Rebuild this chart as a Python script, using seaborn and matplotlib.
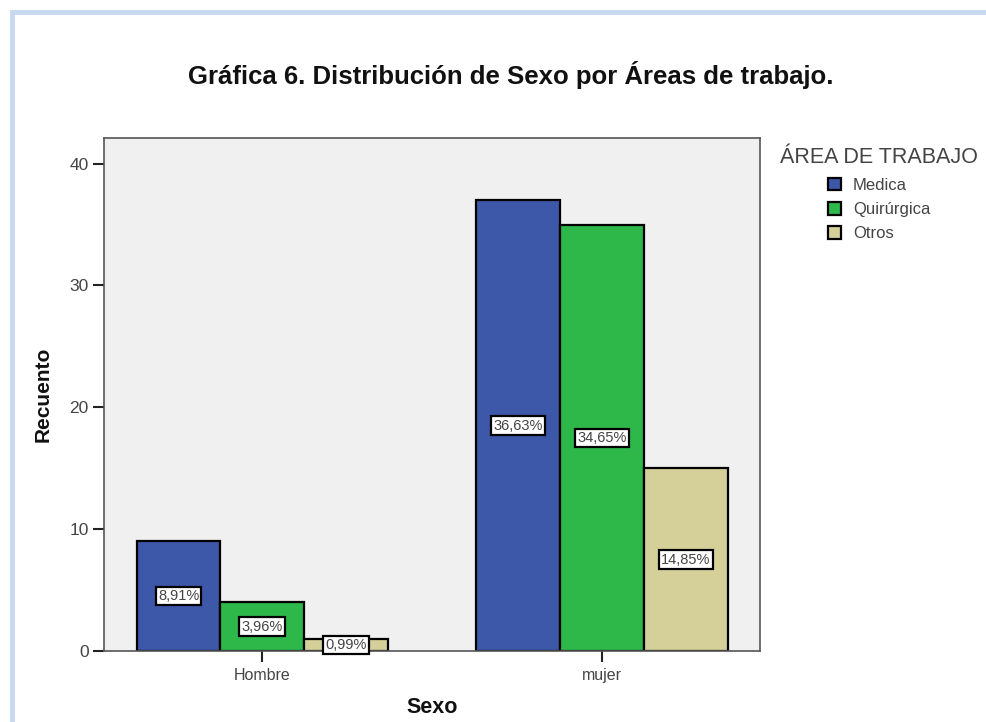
import matplotlib
matplotlib.use("Agg")
import matplotlib.pyplot as plt
from matplotlib.patches import Rectangle, Patch
import seaborn as sns
import pandas as pd

# Counts of staff by sex and work area
sexo = ["Hombre", "mujer"]
areas = ["Medica", "Quirúrgica", "Otros"]
medica = [9, 37]
quirurgica = [4, 35]
otros = [1, 15]
colores = ["#3d57a9", "#2fb84a", "#d5d09a"]

df = pd.DataFrame({
    "Sexo": sexo * 3,
    "Área": [a for a in areas for _ in sexo],
    "Recuento": medica + quirurgica + otros,
})
total = df["Recuento"].sum()

sns.set_theme(style="white")
plt.rcParams["font.family"] = ["Liberation Sans", "DejaVu Sans"]

W, H = 987, 722
fig = plt.figure(figsize=(W / 100, H / 100), dpi=100)
fig.patch.set_facecolor("white")

# light blue page frame
fig.add_artist(Rectangle((12 / W, -0.05), 1.2, 1 - 12 / H + 0.05,
                         transform=fig.transFigure, fill=False,
                         edgecolor="#c6d9f0", linewidth=3.5, zorder=0))

ax = fig.add_axes([104 / W, 1 - 651 / H, (760 - 104) / W, (651 - 138) / H])
ax.set_facecolor("#f0f0f0")

sns.barplot(data=df, x="Sexo", y="Recuento", hue="Área", hue_order=areas,
            order=sexo, palette=colores, width=0.74, gap=0,
            edgecolor="black", linewidth=1.6, saturation=1, ax=ax,
            legend=False, errorbar=None)

ax.set_xlim(-0.466, 1.465)
ax.set_ylim(0, 42.1)
ax.set_yticks([0, 10, 20, 30, 40])

for sp in ["left", "top", "right", "bottom"]:
    ax.spines[sp].set_color("#555555")
    ax.spines[sp].set_linewidth(1.2)

ax.tick_params(axis="x", which="major", direction="out", length=8,
               width=1.5, color="#222222", labelsize=11.5, labelcolor="#444444",
               pad=4, bottom=True)
ax.tick_params(axis="y", which="major", direction="out", length=8,
               width=1.5, color="#222222", labelsize=12.5, labelcolor="#444444",
               pad=3, left=True)

ax.set_xlabel("Sexo", fontsize=15.5, fontweight="bold", color="#111111", labelpad=10)
ax.set_ylabel("Recuento", fontsize=15, fontweight="bold", color="#111111", labelpad=12)

# percentage boxes centred in each bar
for cont in ax.containers:
    for bar in cont:
        h = bar.get_height()
        pct = f"{h / total * 100:.2f}%".replace(".", ",")
        ax.text(bar.get_x() + bar.get_width() / 2, h / 2, pct,
                ha="center", va="center", fontsize=10.5, color="#444444",
                bbox=dict(boxstyle="square,pad=0.15", facecolor="white",
                          edgecolor="black", linewidth=1.6), zorder=5)

handles = [Patch(facecolor=c, edgecolor="black", linewidth=1.6) for c in colores]
leg = ax.legend(handles, areas, title="ÁREA DE TRABAJO", frameon=False,
                loc="upper left", bbox_to_anchor=(772 / W, 1 - 139 / H),
                bbox_transform=fig.transFigure, fontsize=12,
                title_fontsize=15.5, handlelength=0.8, handleheight=0.8,
                handletextpad=0.7, labelspacing=0.55, borderpad=0)
leg.get_title().set_color("#444444")
for t in leg.get_texts():
    t.set_color("#444444")

fig.text(511 / W, 1 - 75 / H, "Gráfica 6. Distribución de Sexo por Áreas de trabajo.",
         ha="center", va="center", fontsize=18.5, fontweight="bold", color="#111111")

fig.savefig("out.png", dpi=100)
